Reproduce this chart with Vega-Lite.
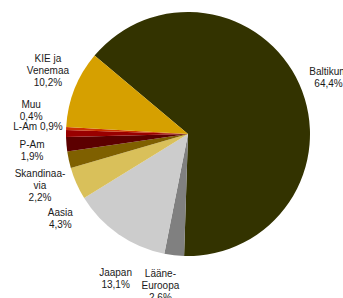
{
  "$schema": "https://vega.github.io/schema/vega-lite/v6.json",
  "autosize": "none",
  "width": 310,
  "height": 268,
  "padding": {"left": 33, "top": 0, "right": 0, "bottom": 30},
  "background": "white",
  "view": {"stroke": null},
  "config": {"text": {"font": "Liberation Sans", "fontSize": 10, "color": "#1a1a1a", "lineBreak": "\n", "lineHeight": 12, "align": "center", "baseline": "middle"}},
  "data": {"values": [
    {"order": 1, "region": "Baltikum", "value": 64.4, "label": "Baltikum\n64,4%"},
    {"order": 2, "region": "Lääne-Euroopa", "value": 2.6, "label": "Lääne-\nEuroopa\n2,6%"},
    {"order": 3, "region": "Jaapan", "value": 13.1, "label": "Jaapan\n13,1%"},
    {"order": 4, "region": "Aasia", "value": 4.3, "label": "Aasia\n4,3%"},
    {"order": 5, "region": "Skandinaavia", "value": 2.2, "label": "Skandinaa-\nvia\n2,2%"},
    {"order": 6, "region": "P-Am", "value": 1.9, "label": "P-Am\n1,9%"},
    {"order": 7, "region": "L-Am", "value": 0.9, "label": "L-Am 0,9%"},
    {"order": 8, "region": "Muu", "value": 0.4, "label": "Muu\n0,4%"},
    {"order": 9, "region": "KIE ja Venemaa", "value": 10.2, "label": "KIE ja\nVenemaa\n10,2%"}
  ]},
  "encoding": {
    "theta": {"field": "value", "type": "quantitative", "stack": true, "scale": {"range": [-0.8727, 5.4105], "nice": false}},
    "order": {"field": "order", "type": "quantitative"}
  },
  "layer": [
    {
      "mark": {"type": "arc", "radius": 122},
      "encoding": {
        "color": {"field": "region", "type": "nominal", "legend": null,
          "scale": {
            "domain": ["Baltikum", "Lääne-Euroopa", "Jaapan", "Aasia", "Skandinaavia", "P-Am", "L-Am", "Muu", "KIE ja Venemaa"],
            "range": ["#333300", "#808080", "#cccccc", "#d9c05a", "#7f6000", "#5c0000", "#990000", "#cc3300", "#d6a000"]
          }}
      }
    },
    {"mark": {"type": "text", "radius": 155, "dx": -1, "dy": 1},
     "encoding": {"detail": {"field": "region"}, "text": {"condition": {"test": "datum.region === 'Baltikum'", "field": "label"}, "value": ""}}},
    {"mark": {"type": "text", "radius": 155, "dx": -10, "dy": -14},
     "encoding": {"detail": {"field": "region"}, "text": {"condition": {"test": "datum.region === 'Lääne-Euroopa'", "field": "label"}, "value": ""}}},
    {"mark": {"type": "text", "radius": 155, "dx": 16, "dy": 12},
     "encoding": {"detail": {"field": "region"}, "text": {"condition": {"test": "datum.region === 'Jaapan'", "field": "label"}, "value": ""}}},
    {"mark": {"type": "text", "radius": 155, "dx": 14, "dy": 16},
     "encoding": {"detail": {"field": "region"}, "text": {"condition": {"test": "datum.region === 'Aasia'", "field": "label"}, "value": ""}}},
    {"mark": {"type": "text", "radius": 155, "dx": 3.5, "dy": 7},
     "encoding": {"detail": {"field": "region"}, "text": {"condition": {"test": "datum.region === 'Skandinaavia'", "field": "label"}, "value": ""}}},
    {"mark": {"type": "text", "radius": 155, "dx": -1.5, "dy": -2},
     "encoding": {"detail": {"field": "region"}, "text": {"condition": {"test": "datum.region === 'P-Am'", "field": "label"}, "value": ""}}},
    {"mark": {"type": "text", "radius": 155, "dx": 5, "dy": -6.5},
     "encoding": {"detail": {"field": "region"}, "text": {"condition": {"test": "datum.region === 'L-Am'", "field": "label"}, "value": ""}}},
    {"mark": {"type": "text", "radius": 155, "dx": -2, "dy": -22},
     "encoding": {"detail": {"field": "region"}, "text": {"condition": {"test": "datum.region === 'Muu'", "field": "label"}, "value": ""}}},
    {"mark": {"type": "text", "radius": 155, "dx": 4, "dy": -18},
     "encoding": {"detail": {"field": "region"}, "text": {"condition": {"test": "datum.region === 'KIE ja Venemaa'", "field": "label"}, "value": ""}}}
  ]
}
